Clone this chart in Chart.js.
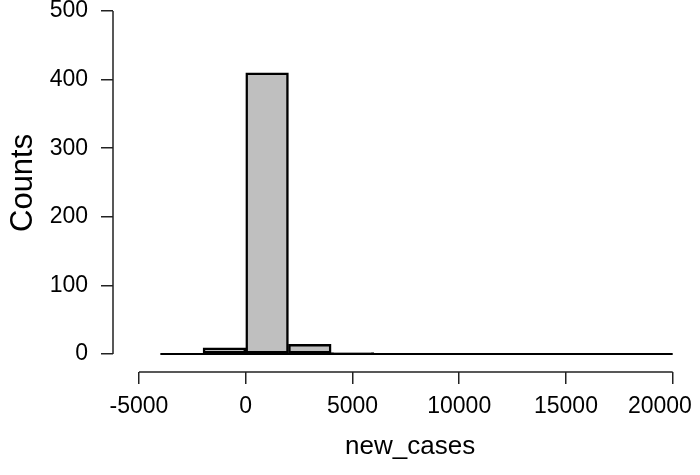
<!DOCTYPE html>
<html>
<head>
<meta charset="utf-8">
<script src="https://cdn.jsdelivr.net/npm/chart.js@4"></script>
<style>
  body { margin: 0; background: #fff; }
  #wrap { width: 700px; height: 475px; }
</style>
</head>
<body>
<div id="wrap"><canvas id="hist" width="700" height="475"></canvas></div>
<script>
// histogram bins (left edge, right edge) and counts
const binLeft  = [-4000, -2000, 0, 2000, 4000, 6000, 8000, 10000, 12000, 14000, 16000, 18000];
const binRight = [-2000, 0, 2000, 4000, 6000, 8000, 10000, 12000, 14000, 16000, 18000, 20000];
const counts   = [0, 9, 410, 14, 2, 1, 0, 0, 0, 1, 0, 0];

const xTicks = [-5000, 0, 5000, 10000, 15000, 20000];
const yTicks = [0, 100, 200, 300, 400, 500];

const fontFamily = "'Liberation Sans', Arial, sans-serif";

const barData = binLeft.map((l, i) => ({x: (l + binRight[i]) / 2, y: counts[i]}));
const baseData = [{x: binLeft[0], y: 0}, {x: binRight[binRight.length - 1], y: 0}];

// R style axis lines that stop at the first and last tick
const axisLines = {
  id: 'axisLines',
  afterDraw(chart) {
    const {ctx, chartArea, scales: {x, y}} = chart;
    ctx.save();
    ctx.strokeStyle = '#222';
    ctx.lineWidth = 1.5;
    ctx.beginPath();
    ctx.moveTo(chartArea.left, y.getPixelForValue(yTicks[0]));
    ctx.lineTo(chartArea.left, y.getPixelForValue(yTicks[yTicks.length - 1]));
    ctx.moveTo(x.getPixelForValue(xTicks[0]), chartArea.bottom);
    ctx.lineTo(x.getPixelForValue(xTicks[xTicks.length - 1]), chartArea.bottom);
    ctx.stroke();
    ctx.restore();
  }
};

Chart.defaults.color = '#000';
Chart.defaults.font.family = fontFamily;

// last x label is pulled in from the edge, like R does
const xLabel = v => v === xTicks[xTicks.length - 1] ? v + '\u00a0\u00a0\u00a0\u00a0' : String(v);

new Chart(document.getElementById('hist'), {
  type: 'bar',
  data: {
    datasets: [{
      type: 'line',
      data: baseData,
      borderColor: '#000',
      borderWidth: 2,
      pointRadius: 0,
      order: 0
    }, {
      data: barData,
      backgroundColor: '#bfbfbf',
      borderColor: '#000',
      borderWidth: 2.5,
      borderSkipped: false,
      barPercentage: 1,
      categoryPercentage: 1,
      order: 1
    }]
  },
  options: {
    responsive: false,
    animation: false,
    layout: { padding: { top: 11, right: 0, left: 0, bottom: 0 } },
    plugins: { legend: { display: false }, tooltip: { enabled: false } },
    scales: {
      x: {
        type: 'linear',
        offset: false,
        min: -6218,
        max: 21279,
        afterBuildTicks: s => { s.ticks = xTicks.map(v => ({value: v})); },
        afterFit: s => { s.height = 103; s.paddingLeft = 0; s.paddingRight = 0; },
        border: { display: false },
        grid: { offset: false, drawOnChartArea: false, drawTicks: true, tickLength: 12, color: '#222', lineWidth: 1.5 },
        ticks: { font: { size: 23 }, padding: 9, maxRotation: 0, autoSkip: false, callback: xLabel },
        title: { display: true, text: '\u00a0new_cases', font: { size: 26 }, padding: { top: 13, bottom: 13 } }
      },
      y: {
        min: -26.2,
        max: 500,
        afterBuildTicks: s => { s.ticks = yTicks.map(v => ({value: v})); },
        afterFit: s => { s.width = 113; s.paddingTop = 0; s.paddingBottom = 0; },
        border: { display: false },
        grid: { drawOnChartArea: false, drawTicks: true, tickLength: 12, color: '#222', lineWidth: 1.5 },
        ticks: { font: { size: 23 }, padding: 13, autoSkip: false },
        title: { display: true, text: '\u00a0\u00a0Counts', font: { size: 31 }, padding: { top: 5, bottom: 5 } }
      }
    }
  },
  plugins: [axisLines]
});
</script>
</body>
</html>
